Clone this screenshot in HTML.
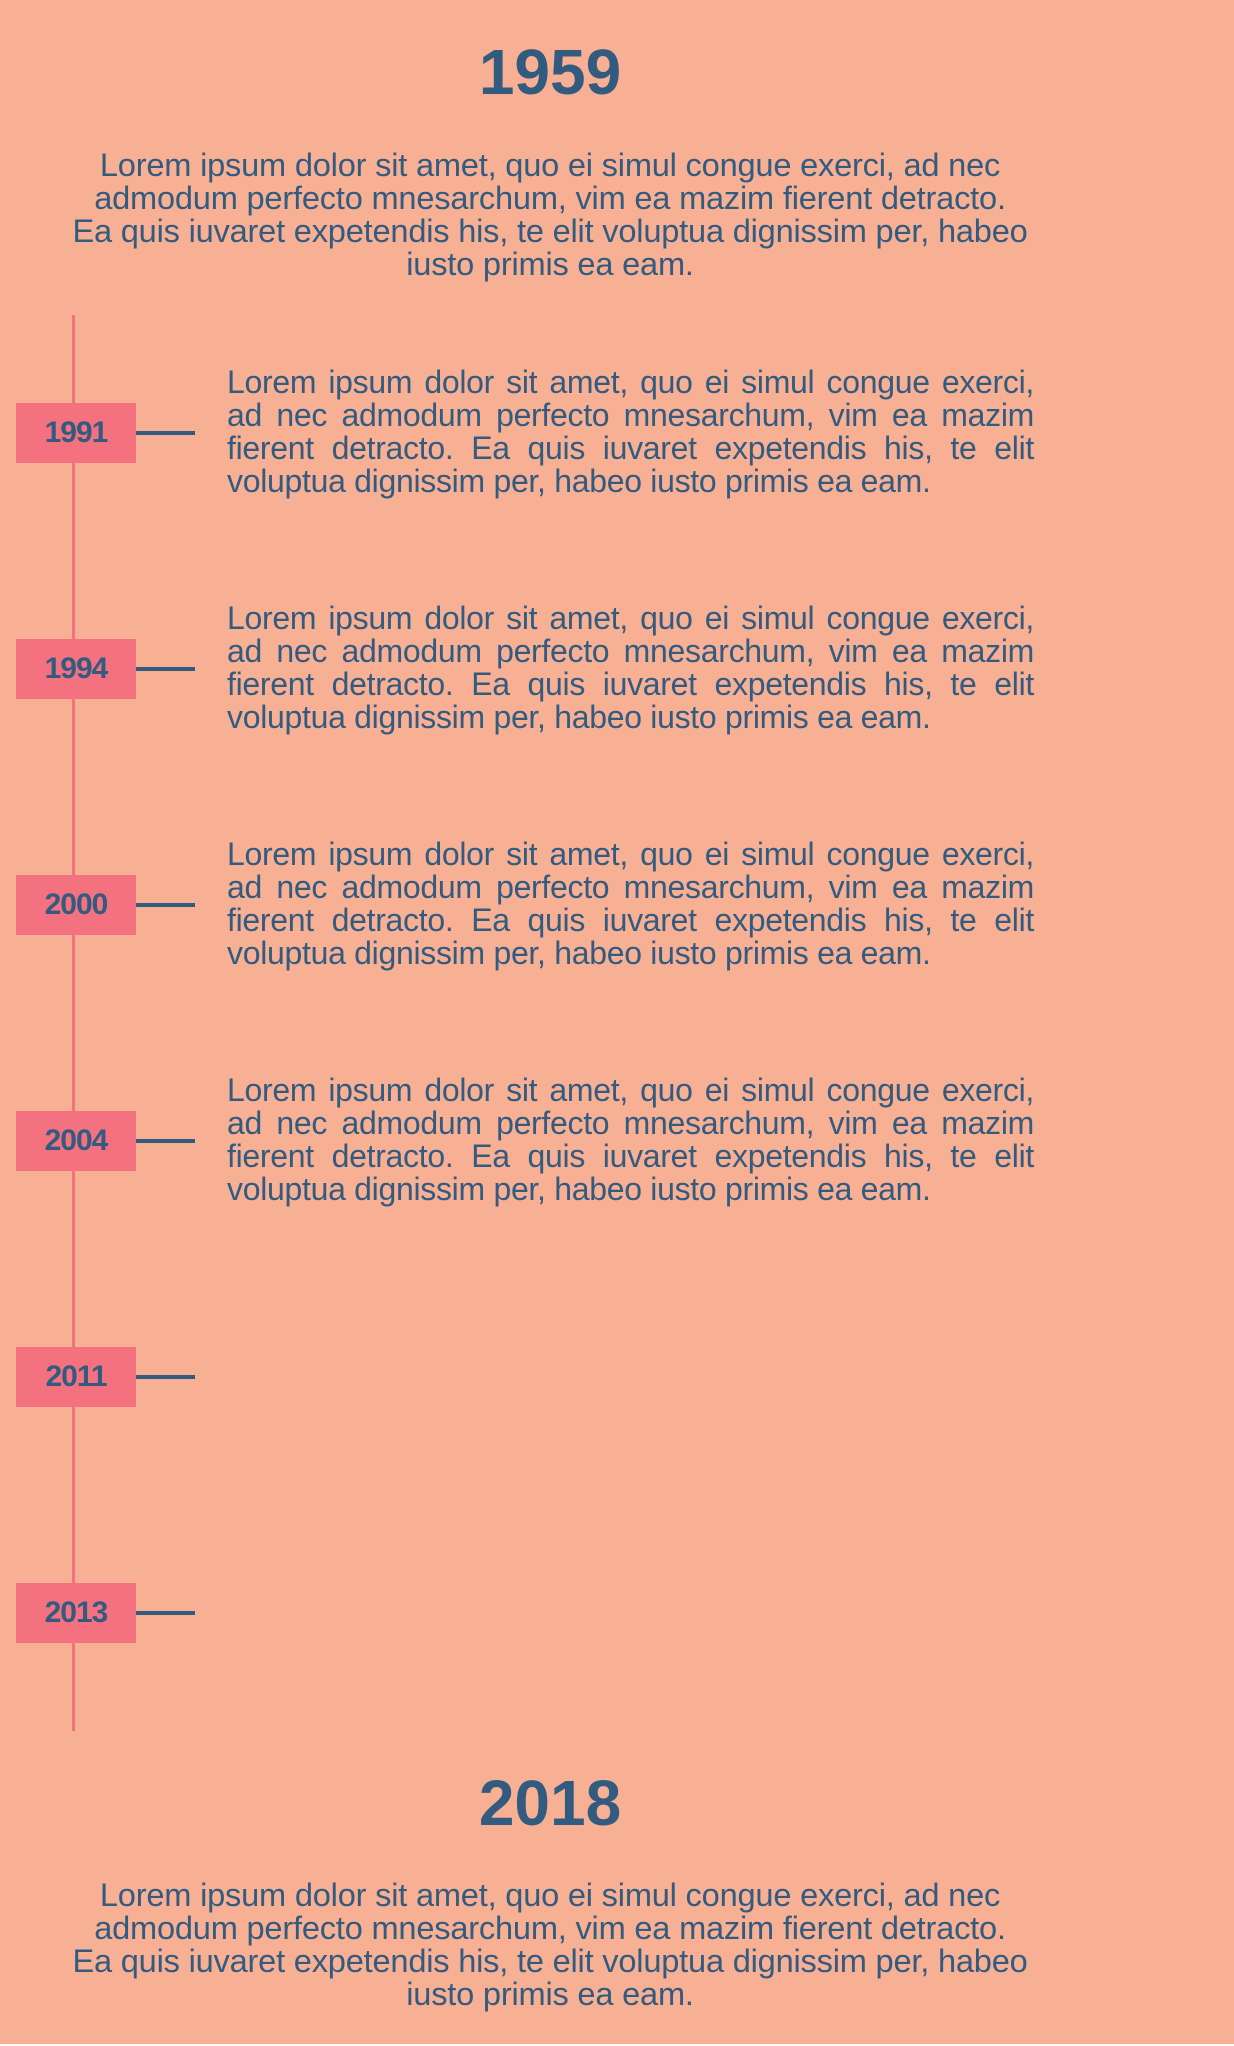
<!DOCTYPE html>
<html><head><meta charset="utf-8"><style>
html,body{margin:0;padding:0}
body{width:1234px;height:2046px;background:#f7b094;position:relative;overflow:hidden;font-family:"Liberation Sans",Arial,sans-serif;color:#335b80}
.t{position:absolute;left:0;width:1100px;text-align:center;font-weight:bold;font-size:64px;line-height:64px}
.p{position:absolute;left:50px;width:1000px;text-align:center;font-size:32.6px;line-height:33px;white-space:nowrap;letter-spacing:-0.2px}
.vl{position:absolute;left:72px;top:315px;width:3px;height:1416px;background:#f47280}
.box{position:absolute;left:16px;width:120px;height:60px;background:#f47280;display:flex;align-items:center;justify-content:center;font-weight:bold;font-size:30px;letter-spacing:-1px}
.cn{position:absolute;left:136px;width:59px;height:4px;background:#335b80}
.it{position:absolute;left:227px;width:807px;font-size:32px;line-height:33px;letter-spacing:-0.3px}
.it div{text-align:justify;text-align-last:justify;white-space:nowrap;overflow:visible}
.it div.l{text-align-last:left}
</style></head><body>
<div class="t" style="top:40px">1959</div>
<div class="p" style="top:148px">Lorem ipsum dolor sit amet, quo ei simul congue exerci, ad nec<br>admodum perfecto mnesarchum, vim ea mazim fierent detracto.<br>Ea quis iuvaret expetendis his, te elit voluptua dignissim per, habeo<br>iusto primis ea eam.</div>
<div class="vl"></div>

<div class="box" style="top:403px">1991</div><div class="cn" style="top:431px"></div>
<div class="it" style="top:366px"><div>Lorem ipsum dolor sit amet, quo ei simul congue exerci,</div><div>ad nec admodum perfecto mnesarchum, vim ea mazim</div><div>fierent detracto. Ea quis iuvaret expetendis his, te elit</div><div class="l">voluptua dignissim per, habeo iusto primis ea eam.</div></div>

<div class="box" style="top:639px">1994</div><div class="cn" style="top:667px"></div>
<div class="it" style="top:602px"><div>Lorem ipsum dolor sit amet, quo ei simul congue exerci,</div><div>ad nec admodum perfecto mnesarchum, vim ea mazim</div><div>fierent detracto. Ea quis iuvaret expetendis his, te elit</div><div class="l">voluptua dignissim per, habeo iusto primis ea eam.</div></div>

<div class="box" style="top:875px">2000</div><div class="cn" style="top:903px"></div>
<div class="it" style="top:838px"><div>Lorem ipsum dolor sit amet, quo ei simul congue exerci,</div><div>ad nec admodum perfecto mnesarchum, vim ea mazim</div><div>fierent detracto. Ea quis iuvaret expetendis his, te elit</div><div class="l">voluptua dignissim per, habeo iusto primis ea eam.</div></div>

<div class="box" style="top:1111px">2004</div><div class="cn" style="top:1139px"></div>
<div class="it" style="top:1074px"><div>Lorem ipsum dolor sit amet, quo ei simul congue exerci,</div><div>ad nec admodum perfecto mnesarchum, vim ea mazim</div><div>fierent detracto. Ea quis iuvaret expetendis his, te elit</div><div class="l">voluptua dignissim per, habeo iusto primis ea eam.</div></div>

<div class="box" style="top:1347px">2011</div><div class="cn" style="top:1375px"></div>
<div class="box" style="top:1583px">2013</div><div class="cn" style="top:1611px"></div>

<div class="t" style="top:1771px">2018</div>
<div class="p" style="top:1878px">Lorem ipsum dolor sit amet, quo ei simul congue exerci, ad nec<br>admodum perfecto mnesarchum, vim ea mazim fierent detracto.<br>Ea quis iuvaret expetendis his, te elit voluptua dignissim per, habeo<br>iusto primis ea eam.</div>
<div style="position:absolute;left:0;top:2044px;width:1234px;height:2px;background:#fff"></div>
</body></html>
